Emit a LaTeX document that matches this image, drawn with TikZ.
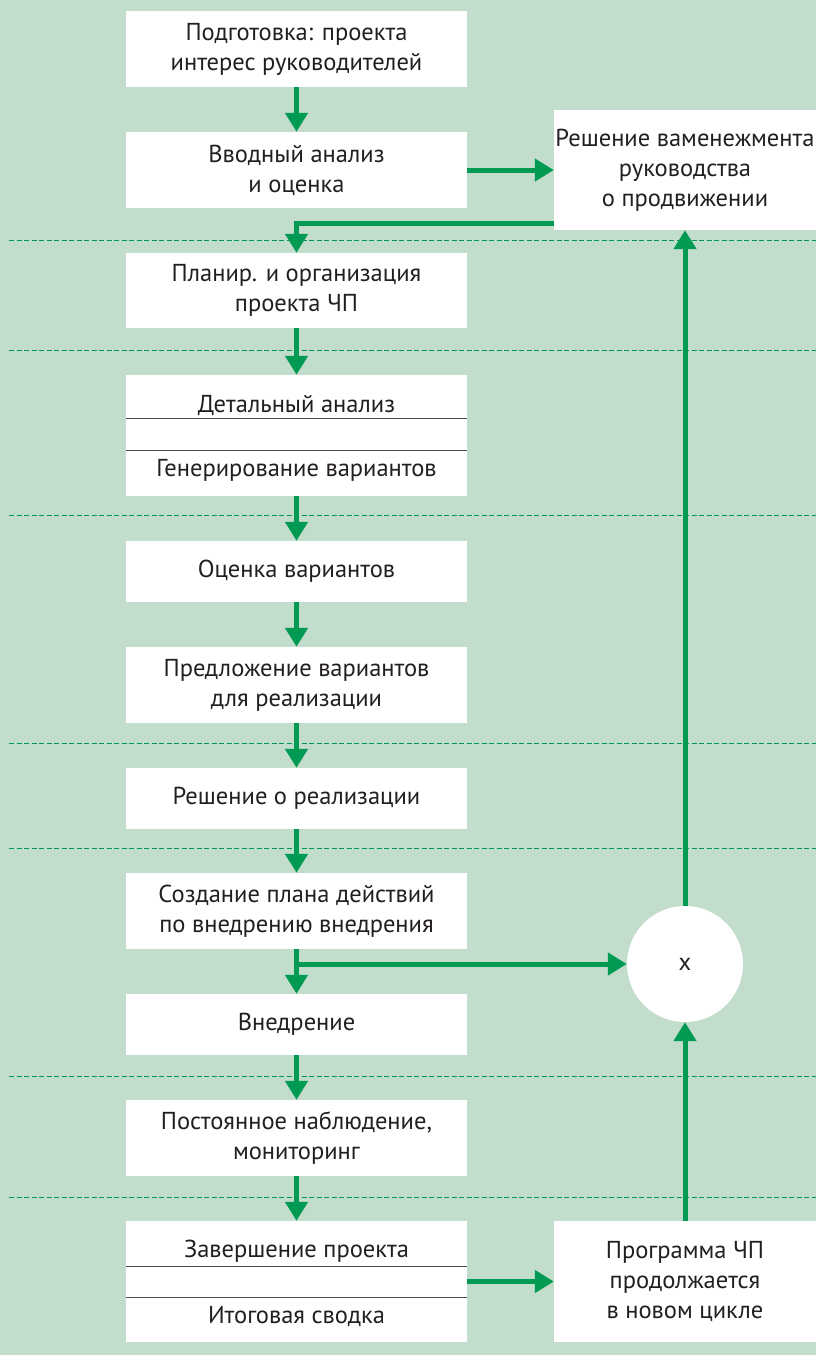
\documentclass[tikz,border=0pt]{standalone}
\usepackage{fontspec}
\setmainfont{PT Sans}
\usetikzlibrary{arrows.meta}
\definecolor{bg}{RGB}{194,221,204}
\definecolor{flowgreen}{RGB}{0,154,82}
\definecolor{ink}{RGB}{35,31,32}
\begin{document}
\begin{tikzpicture}
  [x=1pt,y=-1pt,
    box/.style={fill=white,minimum width=341pt,inner sep=0pt,align=center,
      text=ink,font=\fontsize{24.5}{30}\selectfont},
    sidebox/.style={box,minimum width=262pt,minimum height=121pt},
    label/.style={text=ink,font=\fontsize{24.5}{30}\selectfont,inner sep=0pt},
    flow/.style={draw=flowgreen,line width=5pt,-{Triangle[width=22pt,length=19pt]}},
    stage/.style={draw=flowgreen,line width=1pt,dash pattern=on 5pt off 2.5pt},
    divider/.style={draw=ink!80,line width=1pt},
]

  \fill[bg] (0,0) rectangle (816,1355);
  \useasboundingbox (0,0) rectangle (816,1355);

  % stage borders
  \foreach \y in {240,350,515,743,848,1076,1197}
    \draw[stage] (9,\y) -- (816,\y);

  \node[box,minimum height=76pt](prep) at (296.5,49) {Подготовка: проекта\\интерес руководителей};
  \node[box,minimum height=76pt](intro) at (296.5,170) {Вводный анализ\\и оценка};
  \node[box,minimum height=75pt](plan) at (296.5,290.5) {Планир. и организация\\проекта ЧП};
  \node[box,minimum height=121pt](detail) at (296.5,435.5) {};
  \node[label](detailtop) at (296.5,405) {Детальный анализ};
  \node[label](detailbot) at (296.5,470) {Генерирование вариантов};
  \draw[divider] (126,418) -- (467,418);
  \draw[divider] (126,450) -- (467,450);
  \node[box,minimum height=61pt](eval) at (296.5,571.5) {Оценка вариантов};
  \node[box,minimum height=76pt](offer) at (296.5,685) {Предложение вариантов\\для реализации};
  \node[box,minimum height=61pt](decide) at (296.5,798.5) {Решение о реализации};
  \node[box,minimum height=76pt](create) at (296.5,911) {Создание плана действий\\по внедрению внедрения};
  \node[box,minimum height=61pt](implement) at (296.5,1024.5) {Внедрение};
  \node[box,minimum height=76pt](monitor) at (296.5,1138) {Постоянное наблюдение,\\мониторинг};
  \node[box,minimum height=121pt](finish) at (296.5,1281.5) {};
  \node[label](finishtop) at (296.5,1251) {Завершение проекта};
  \node[label](finishbot) at (296.5,1316) {Итоговая сводка};
  \draw[divider] (126,1266) -- (467,1266);
  \draw[divider] (126,1297) -- (467,1297);

  \node[sidebox,minimum height=120pt](decision) at (685,170) {Решение ваменежмента\\руководства\\о продвижении};
  \node[circle,fill=white,minimum size=116pt,inner sep=0pt,label](merge) at (685,964) {x};
  \node[sidebox](program) at (685,1281.5) {Программа ЧП\\продолжается\\в новом цикле};

  \draw[flow] (prep) -- (intro);
  \draw[flow] (intro) -- (decision);
  \draw[flow] ([yshift=-53pt]decision.west) -| (plan.north);
  \draw[flow] (plan) -- (detail);
  \draw[flow] (detail) -- (eval);
  \draw[flow] (eval) -- (offer);
  \draw[flow] (offer) -- (decide);
  \draw[flow] (decide) -- (create);
  \draw[flow] (create) -- (implement);
  \draw[flow] ([xshift=-2.5pt]create.south |- merge.west) -- (merge.west);
  \draw[flow] (implement) -- (monitor);
  \draw[flow] (monitor) -- (finish);
  \draw[flow] (finish) -- (program);
  \draw[flow] (program) -- (merge);
  \draw[flow] (merge) -- (decision);

\end{tikzpicture}
\end{document}
